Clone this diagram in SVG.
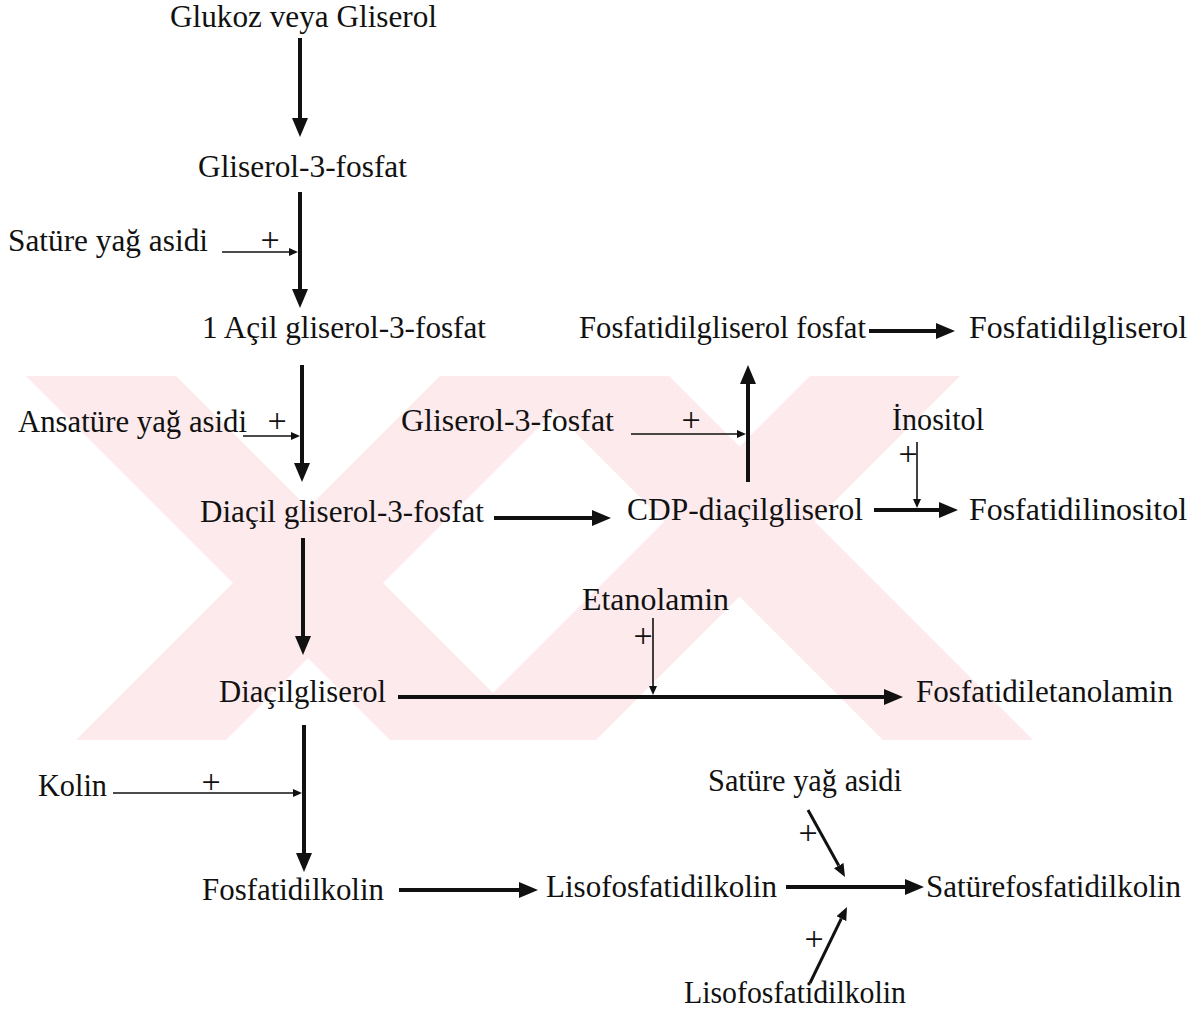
<svg xmlns="http://www.w3.org/2000/svg" width="1204" height="1013" viewBox="0 0 1204 1013">
<style>
  text { font-family: "Liberation Serif", "Times New Roman", serif; font-size: 31px; fill: #111; }
  text.plus { font-size: 34px; text-anchor: middle; }
  .thick { stroke: #111; stroke-width: 4; fill: none; }
  .thin { stroke: #111; stroke-width: 1.6; fill: none; }
  .mid { stroke: #111; stroke-width: 3; fill: none; }
  .wm { fill: #fdeaec; }
</style>
<defs>
  <marker id="big" markerUnits="userSpaceOnUse" markerWidth="19" markerHeight="16" refX="0" refY="8" orient="auto">
    <path d="M0,0 L19,8 L0,16 z" fill="#111"/>
  </marker>
  <marker id="small" markerUnits="userSpaceOnUse" markerWidth="9" markerHeight="8" refX="0" refY="4" orient="auto">
    <path d="M0,0 L9,4 L0,8 z" fill="#111"/>
  </marker>
  <marker id="med" markerUnits="userSpaceOnUse" markerWidth="13" markerHeight="11" refX="0" refY="5.5" orient="auto">
    <path d="M0,0 L13,5.5 L0,11 z" fill="#111"/>
  </marker>
  <clipPath id="wmclip"><rect x="0" y="376" width="1204" height="364"/></clipPath>
</defs>
<rect width="1204" height="1013" fill="#fff"/>
<g id="watermark" clip-path="url(#wmclip)">
  <polygon class="wm" points="26,376 176,376 540,740 390,740"/>
  <polygon class="wm" points="440,376 590,376 226,740 76,740"/>
  <polygon class="wm" points="519,376 669,376 1033,740 883,740"/>
  <polygon class="wm" points="810,376 960,376 596,740 446,740"/>
</g>
<g id="connectors">
  <line class="thick" x1="300" y1="38" x2="300" y2="118" marker-end="url(#big)"/>
  <line class="thick" x1="300" y1="192" x2="300" y2="289" marker-end="url(#big)"/>
  <line class="thick" x1="302" y1="365" x2="302" y2="463" marker-end="url(#big)"/>
  <line class="thick" x1="303" y1="538" x2="303" y2="636" marker-end="url(#big)"/>
  <line class="thick" x1="304" y1="725" x2="304" y2="853" marker-end="url(#big)"/>
  <line class="thick" x1="748" y1="482" x2="748" y2="384" marker-end="url(#big)"/>
  <line class="thick" x1="494" y1="518" x2="592" y2="518" marker-end="url(#big)"/>
  <line class="thick" x1="874" y1="510" x2="939" y2="510" marker-end="url(#big)"/>
  <line class="thick" x1="869" y1="331" x2="936" y2="331" marker-end="url(#big)"/>
  <line class="thick" x1="398" y1="697" x2="884" y2="697" marker-end="url(#big)"/>
  <line class="thick" x1="399" y1="890" x2="519" y2="890" marker-end="url(#big)"/>
  <line class="thick" x1="786" y1="887" x2="905" y2="887" marker-end="url(#big)"/>
  <line class="thin" x1="222" y1="252" x2="289" y2="252" marker-end="url(#small)"/>
  <line class="thin" x1="243" y1="436" x2="291" y2="436" marker-end="url(#small)"/>
  <line class="thin" x1="631" y1="434" x2="737" y2="434" marker-end="url(#small)"/>
  <line class="thin" x1="917" y1="442" x2="917" y2="499" marker-end="url(#small)"/>
  <line class="thin" x1="653" y1="618" x2="653" y2="686" marker-end="url(#small)"/>
  <line class="thin" x1="113" y1="793" x2="293" y2="793" marker-end="url(#small)"/>
  <line class="mid" x1="808" y1="810" x2="838.7" y2="865.6" marker-end="url(#med)"/>
  <line class="mid" x1="810" y1="983" x2="841.3" y2="918.7" marker-end="url(#med)"/>
  <text class="plus" x="270" y="250.5">+</text>
  <text class="plus" x="277" y="431.5">+</text>
  <text class="plus" x="691" y="430.5">+</text>
  <text class="plus" x="908" y="464.5">+</text>
  <text class="plus" x="643" y="646.5">+</text>
  <text class="plus" x="211" y="792.5">+</text>
  <text class="plus" x="808" y="843.5">+</text>
  <text class="plus" x="814" y="949.5">+</text>
</g>
<g id="n-glukoz"><text x="170" y="27" textLength="267" lengthAdjust="spacingAndGlyphs">Glukoz veya Gliserol</text></g>
<g id="n-g3p"><text x="198" y="177" textLength="209" lengthAdjust="spacingAndGlyphs">Gliserol-3-fosfat</text></g>
<g id="n-satyag1"><text x="8" y="251" textLength="200" lengthAdjust="spacingAndGlyphs">Satüre yağ asidi</text></g>
<g id="n-acil"><text x="202" y="338" textLength="284" lengthAdjust="spacingAndGlyphs">1 Açil gliserol-3-fosfat</text></g>
<g id="n-fgf"><text x="579" y="338" textLength="287" lengthAdjust="spacingAndGlyphs">Fosfatidilgliserol fosfat</text></g>
<g id="n-fg"><text x="969" y="338" textLength="218" lengthAdjust="spacingAndGlyphs">Fosfatidilgliserol</text></g>
<g id="n-ansat"><text x="18" y="432" textLength="229" lengthAdjust="spacingAndGlyphs">Ansatüre yağ asidi</text></g>
<g id="n-g3p2"><text x="401" y="431" textLength="213" lengthAdjust="spacingAndGlyphs">Gliserol-3-fosfat</text></g>
<g id="n-inositol"><text x="892" y="430" textLength="92" lengthAdjust="spacingAndGlyphs">İnositol</text></g>
<g id="n-diacilg3p"><text x="200" y="522" textLength="284" lengthAdjust="spacingAndGlyphs">Diaçil gliserol-3-fosfat</text></g>
<g id="n-cdp"><text x="627" y="520" textLength="236" lengthAdjust="spacingAndGlyphs">CDP-diaçilgliserol</text></g>
<g id="n-fi"><text x="969" y="520" textLength="218" lengthAdjust="spacingAndGlyphs">Fosfatidilinositol</text></g>
<g id="n-etanol"><text x="582" y="610" textLength="147" lengthAdjust="spacingAndGlyphs">Etanolamin</text></g>
<g id="n-dag"><text x="219" y="702" textLength="167" lengthAdjust="spacingAndGlyphs">Diaçilgliserol</text></g>
<g id="n-fe"><text x="916" y="702" textLength="257" lengthAdjust="spacingAndGlyphs">Fosfatidiletanolamin</text></g>
<g id="n-kolin"><text x="38" y="796" textLength="69" lengthAdjust="spacingAndGlyphs">Kolin</text></g>
<g id="n-satyag2"><text x="708" y="791" textLength="194" lengthAdjust="spacingAndGlyphs">Satüre yağ asidi</text></g>
<g id="n-fk"><text x="202" y="900" textLength="182" lengthAdjust="spacingAndGlyphs">Fosfatidilkolin</text></g>
<g id="n-lfk"><text x="546" y="897" textLength="231" lengthAdjust="spacingAndGlyphs">Lisofosfatidilkolin</text></g>
<g id="n-sfk"><text x="926" y="897" textLength="255" lengthAdjust="spacingAndGlyphs">Satürefosfatidilkolin</text></g>
<g id="n-lfk2"><text x="684" y="1003" textLength="222" lengthAdjust="spacingAndGlyphs">Lisofosfatidilkolin</text></g>
</svg>
